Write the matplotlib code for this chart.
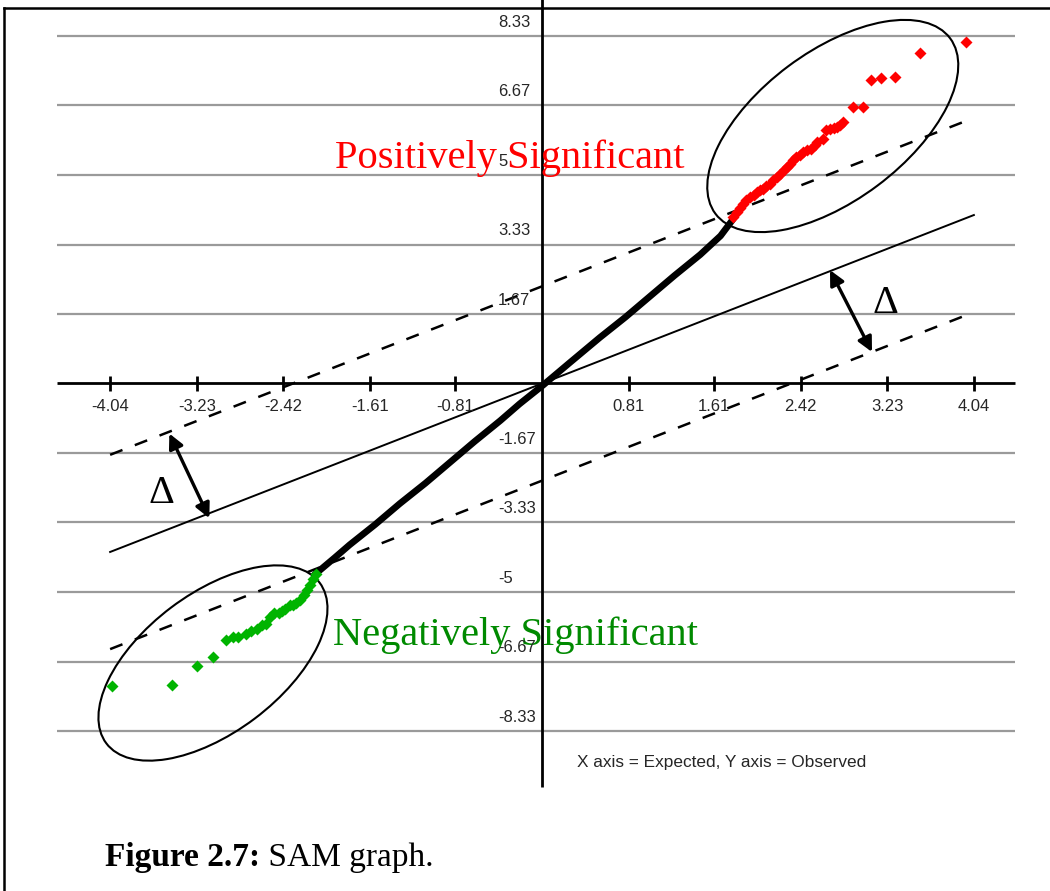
import matplotlib
matplotlib.use("Agg")
import matplotlib.pyplot as plt
from matplotlib.patches import Ellipse
from matplotlib.lines import Line2D
from matplotlib.transforms import Affine2D

# ---- data -------------------------------------------------------------
x_ticks = [-4.04, -3.23, -2.42, -1.61, -0.81, 0.81, 1.61, 2.42, 3.23, 4.04]
x_tick_labels = ["-4.04", "-3.23", "-2.42", "-1.61", "-0.81",
                 "0.81", "1.61", "2.42", "3.23", "4.04"]
y_ticks = [8.33, 6.67, 5.0, 3.33, 1.67, -1.67, -3.33, -5.0, -6.67, -8.33]
y_tick_labels = ["8.33", "6.67", "5", "3.33", "1.67",
                 "-1.67", "-3.33", "-5", "-6.67", "-8.33"]

# non-significant genes (expected, observed)
black_x = [-2.13, -1.94, -1.80, -1.56, -1.33, -1.09, -0.86, -0.63, -0.39, -0.21,
           0.01, 0.26, 0.54, 0.78, 1.01, 1.24, 1.48, 1.67, 1.79]
black_y = [-4.59, -4.18, -3.87, -3.38, -2.88, -2.39, -1.89, -1.39, -0.89, -0.49,
           -0.04, 0.50, 1.10, 1.59, 2.09, 2.59, 3.09, 3.54, 3.95]

# positively significant genes
red_x = [1.79, 1.82, 1.85, 1.88, 1.91, 1.95, 1.98, 2.01, 2.04, 2.07,
         2.10, 2.13, 2.16, 2.20, 2.23, 2.26, 2.29, 2.32, 2.35, 2.38,
         2.41, 2.44, 2.48, 2.52, 2.55, 2.57, 2.63, 2.66, 2.69, 2.73,
         2.76, 2.79, 2.82, 2.91, 3.00, 3.08, 3.17, 3.30, 3.54, 3.97]
red_y = [3.99, 4.11, 4.20, 4.31, 4.39, 4.47, 4.53, 4.59, 4.63, 4.67,
         4.73, 4.79, 4.87, 4.95, 5.03, 5.11, 5.19, 5.27, 5.35, 5.43,
         5.49, 5.55, 5.59, 5.63, 5.71, 5.79, 5.87, 6.07, 6.11, 6.13,
         6.15, 6.21, 6.27, 6.63, 6.63, 7.29, 7.33, 7.36, 7.92, 8.18]

# negatively significant genes
green_x = [-4.02, -3.46, -3.23, -3.08, -2.96, -2.89, -2.84, -2.77, -2.72, -2.67,
           -2.62, -2.58, -2.54, -2.51, -2.46, -2.43, -2.40, -2.36, -2.33, -2.30,
           -2.26, -2.23, -2.20, -2.17, -2.14, -2.11]
green_y = [-7.26, -7.22, -6.77, -6.56, -6.14, -6.07, -6.07, -6.00, -5.94, -5.88,
           -5.80, -5.76, -5.60, -5.51, -5.51, -5.45, -5.40, -5.32, -5.30, -5.27,
           -5.19, -5.08, -4.96, -4.84, -4.68, -4.56]

# reference line observed = expected, and the +/- delta band
ref_x = [-4.04, 4.04]
ref_y = [-4.04, 4.04]
delta = 2.33

# ---- figure / axes ------------------------------------------------------
W, H = 1050, 891
fig = plt.figure(figsize=(W / 100, H / 100), dpi=100)
ax = fig.add_axes([0, 0, 1, 1])
ax.set_axis_off()

# pixel scale of one data unit and location of the origin
SX, SY = 106.9, 41.7
OX, OY = 542.0, 383.5
ax.set_xlim(-OX / SX, (W - OX) / SX)
ax.set_ylim((OY - H) / SY, OY / SY)

x_lo, x_hi = (57 - OX) / SX, (1015 - OX) / SX

# horizontal grid
ax.hlines(y_ticks, x_lo, x_hi, colors="#9a9a9a", lw=1.6, zorder=1)

# axes lines
ax.hlines(0, x_lo, x_hi, colors="black", lw=2.0, zorder=3)
ax.vlines(0, (OY - 787) / SY, OY / SY + 0.5, colors="black", lw=2.0, zorder=3)
ax.vlines(x_ticks, -0.19, 0.19, colors="black", lw=2.0, zorder=3)

# tick labels
lab_font = dict(family="Liberation Sans", fontsize=12, color="#262626")
for xv, s in zip(x_ticks, x_tick_labels):
    ax.text(xv, -0.54, s, ha="center", va="center", zorder=6, **lab_font)
for yv, s in zip(y_ticks, y_tick_labels):
    ax.text(-0.41, yv + 0.33, s, ha="left", va="center", zorder=6, **lab_font)

# reference line and delta band
ax.plot(ref_x, ref_y, color="black", lw=1.4, zorder=2)
for sgn in (1, -1):
    ax.plot(ref_x, [v + sgn * delta for v in ref_y], color="black", lw=1.8,
            linestyle=(0, (5.3, 5.3)), zorder=2)

# observed vs expected
ax.plot(black_x, black_y, color="black", lw=4.8, solid_capstyle="round",
        solid_joinstyle="round", zorder=4)
ax.plot(red_x, red_y, linestyle="none", marker="D", ms=6, mec="none",
        color="#ff0000", zorder=5)
ax.plot(green_x, green_y, linestyle="none", marker="D", ms=6, mec="none",
        color="#00b400", zorder=5)

# ellipses drawn in pixel units around a data-space centre
def pixel_ellipse(cx, cy, w, h, angle):
    tr = Affine2D().scale(1 / SX, 1 / SY).translate(cx, cy) + ax.transData
    e = Ellipse((0, 0), w, h, angle=angle, fill=False, ec="black", lw=1.5,
                transform=tr, zorder=4)
    ax.add_patch(e)

pixel_ellipse(2.72, 6.175, 293, 149, 36.8)
pixel_ellipse(-3.078, -6.703, 267, 139, 37.0)

# delta arrows
arrow = dict(arrowstyle="<|-|>", color="black", lw=2.4, mutation_scale=22,
             shrinkA=0, shrinkB=0)
ax.annotate("", xy=(-3.112, -3.23), xytext=(-3.486, -1.20),
            arrowprops=arrow, zorder=5)
ax.annotate("", xy=(3.087, 0.755), xytext=(2.694, 2.72),
            arrowprops=arrow, zorder=5)
ax.text(-3.564, -2.63, "\u0394", ha="center", va="center",
        family="Liberation Serif", fontsize=29, zorder=5)
ax.text(3.209, 1.93, "\u0394", ha="center", va="center",
        family="Liberation Serif", fontsize=29, zorder=5)

# region labels
ax.text(-1.936, 5.17, "Positively Significant", ha="left", va="baseline",
        family="Liberation Serif", fontsize=29.2, color="#ff0000", zorder=3.5)
ax.text(-1.955, -6.27, "Negatively Significant", ha="left", va="baseline",
        family="Liberation Serif", fontsize=29.2, color="#008a00", zorder=3.5)

ax.text(0.327, -9.08, "X axis = Expected, Y axis = Observed", ha="left",
        va="center", zorder=6, **dict(lab_font, fontsize=12.4))

# page frame
fig.add_artist(Line2D([3.5 / W, 3.5 / W], [0, 1 - 8 / H], color="black",
                      lw=1.8, transform=fig.transFigure))
fig.add_artist(Line2D([3.5 / W, 1], [1 - 8 / H, 1 - 8 / H], color="black",
                      lw=1.8, transform=fig.transFigure))

# caption: bold figure number followed by regular text
cap_y = 1 - 866 / H
t1 = fig.text(105 / W, cap_y, "Figure 2.7:", ha="left", va="baseline",
              family="Liberation Serif", fontweight="bold", fontsize=24)
fig.canvas.draw()
bb = t1.get_window_extent()
fig.text(bb.x1 / W, cap_y, " SAM graph.", ha="left", va="baseline",
         family="Liberation Serif", fontsize=24)

fig.savefig("out.png", dpi=100)
